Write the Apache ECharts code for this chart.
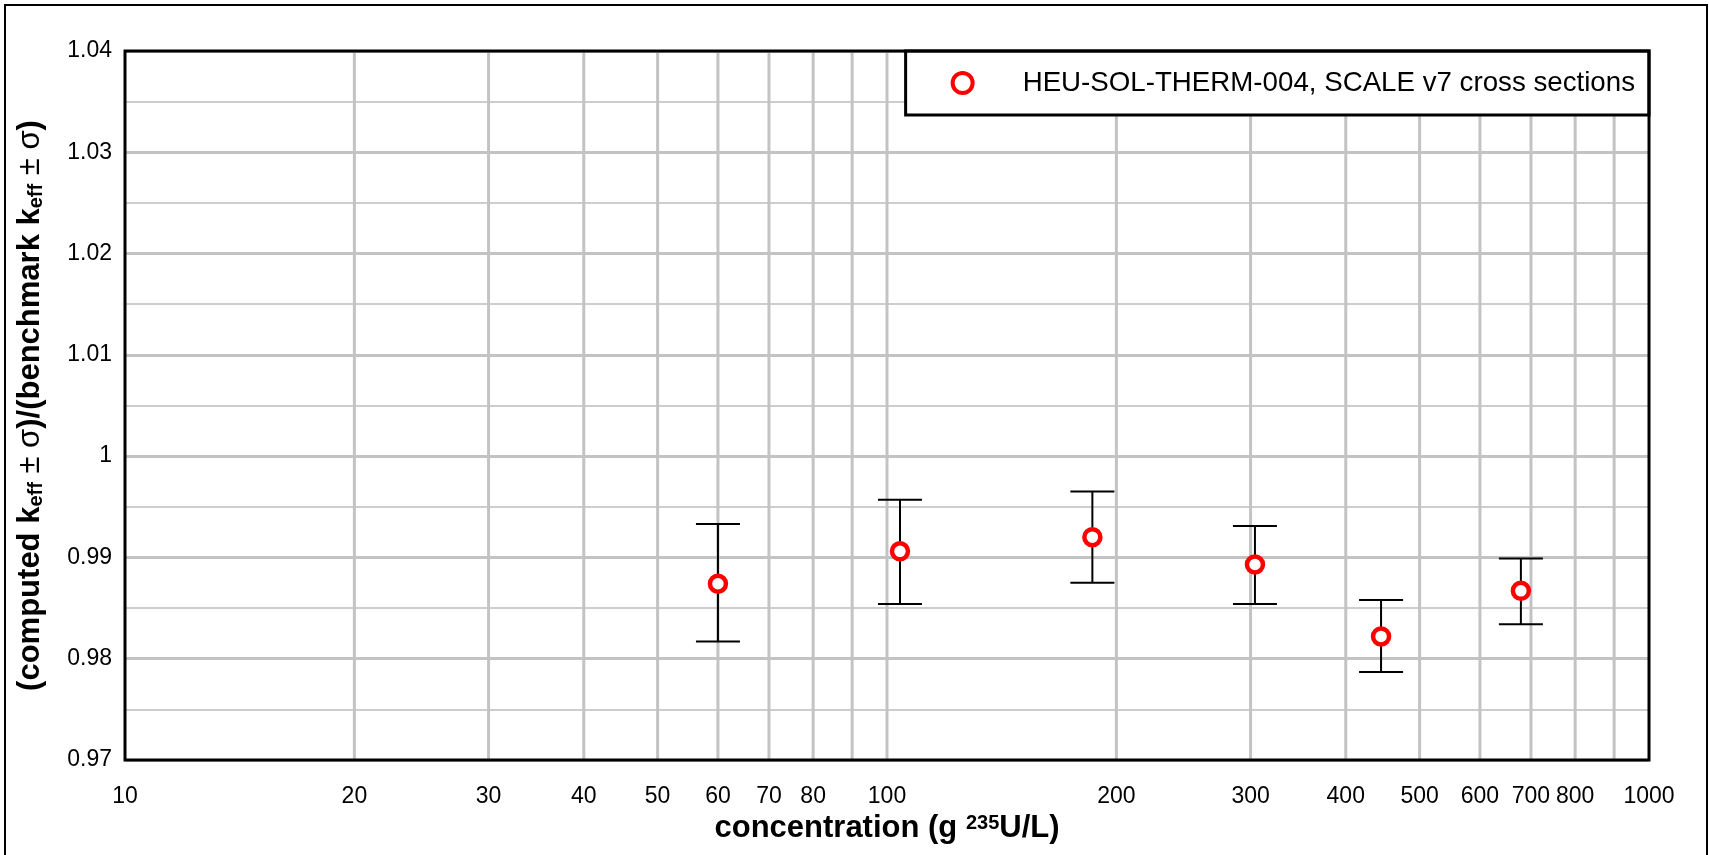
<!DOCTYPE html>
<html>
<head>
<meta charset="utf-8">
<script src="https://cdn.jsdelivr.net/npm/echarts@6/dist/echarts.min.js"></script>
<style>
html,body{margin:0;padding:0;background:#fff;}
#chart{width:1709px;height:855px;}
</style>
</head>
<body>
<div id="chart"></div>
<script>
// ---- data ----
const seriesName = 'HEU-SOL-THERM-004, SCALE v7 cross sections';
const concentration = [60, 104, 186, 304, 445, 679];
const ratio = [0.9874, 0.9906, 0.9920, 0.9893, 0.9822, 0.9867];
const ratioLow = [0.9817, 0.9854, 0.9875, 0.9854, 0.9787, 0.9834];
const ratioHigh = [0.9933, 0.9957, 0.9965, 0.9931, 0.9858, 0.9899];
const xGridValues = [20, 30, 40, 50, 60, 70, 80, 90, 100, 200, 300, 400, 500, 600, 700, 800, 900];
const xTickLabels = [10, 20, 30, 40, 50, 60, 70, 80, 100, 200, 300, 400, 500, 600, 700, 800, 1000];
const yMin = 0.97, yMax = 1.04, yStep = 0.01;

// ---- layout ----
const W = 1709, H = 855;
const G = {left: 125, top: 51, right: 60, bottom: 95};
const FONT = '"Liberation Sans", Arial, sans-serif';

const chart = echarts.init(document.getElementById('chart'), null, {renderer: 'canvas'});

const option = {
  backgroundColor: '#fff',
  animation: false,
  grid: {left: G.left, top: G.top, right: G.right, bottom: G.bottom},
  xAxis: {
    type: 'log', logBase: 10, min: 10, max: 1000,
    axisLine: {show: false}, axisTick: {show: false}, axisLabel: {show: false},
    splitLine: {show: false},
    name: 'concentration (g {sup|235}U/L)',
    nameLocation: 'middle', nameGap: 53,
    nameTextStyle: {
      fontFamily: FONT, fontSize: 31, fontWeight: 'bold', color: '#000',
      rich: {sup: {fontFamily: FONT, fontSize: 20, fontWeight: 'bold', color: '#000', verticalAlign: 'top', lineHeight: 20, padding: [0, 0, 14, 0]}}
    }
  },
  yAxis: {
    type: 'value', min: yMin, max: yMax, interval: yStep,
    axisLine: {show: false}, axisTick: {show: false},
    axisLabel: {
      fontFamily: FONT, fontSize: 23, color: '#000', margin: 13,
      formatter: v => String(+v.toFixed(2))
    },
    splitLine: {show: true, lineStyle: {color: '#c3c3c3', width: 3}},
    minorTick: {show: false, splitNumber: 2},
    minorSplitLine: {show: true, lineStyle: {color: '#cdcdcd', width: 2}},
    name: '(computed k{sub|eff} {sym|±} {sym|σ})/(benchmark k{sub|eff} {sym|±} {sym|σ})',
    nameLocation: 'middle', nameGap: 79,
    nameTextStyle: {
      fontFamily: FONT, fontSize: 31, fontWeight: 'bold', color: '#000',
      rich: {
        sub: {fontFamily: FONT, fontSize: 20, fontWeight: 'bold', color: '#000', verticalAlign: 'bottom', padding: [12, 0, 0, 0]},
        sym: {fontFamily: FONT, fontSize: 31, fontWeight: 'normal', color: '#000'}
      }
    }
  },
  legend: {
    data: [seriesName],
    right: G.right, top: G.top,
    orient: 'horizontal',
    padding: [18, 14, 18, 45],
    itemWidth: 110, itemHeight: 20,
    backgroundColor: '#fff',
    borderColor: '#000', borderWidth: 3, borderRadius: 0,
    itemStyle: {color: '#fff', borderColor: '#ff0000', borderWidth: 4},
    textStyle: {fontFamily: FONT, fontSize: 27.7, color: '#000'}
  },
  graphic: [
    {type: 'rect', z: 100, silent: true,
     shape: {x: G.left, y: G.top, width: W - G.left - G.right, height: H - G.top - G.bottom},
     style: {fill: 'none', stroke: '#000', lineWidth: 3}},
    {type: 'rect', z: 100, silent: true,
     shape: {x: 5, y: 5, width: W - 7, height: H + 20},
     style: {fill: 'none', stroke: '#000', lineWidth: 2}}
  ],
  series: [
    {
      name: 'xgrid', type: 'custom', silent: true, z: 1,
      data: xGridValues.map(v => [v]),
      encode: {x: 0},
      renderItem: (params, api) => {
        const v = api.value(0);
        const p0 = api.coord([v, yMin]);
        const p1 = api.coord([v, yMax]);
        return {type: 'line', shape: {x1: p0[0], y1: p0[1], x2: p1[0], y2: p1[1]},
                style: {stroke: '#c3c3c3', lineWidth: 3}};
      }
    },
    {
      name: 'xlabels', type: 'custom', silent: true, z: 1,
      data: xTickLabels.map(v => [v]),
      encode: {x: 0},
      renderItem: (params, api) => {
        const v = api.value(0);
        const p = api.coord([v, yMin]);
        return {type: 'text', x: p[0], y: p[1] + 25,
                style: {text: String(v), fontFamily: FONT, fontSize: 23, fill: '#000', align: 'center', verticalAlign: 'top'}};
      }
    },
    {
      name: 'errorbars', type: 'custom', z: 3, silent: true,
      data: concentration.map((c, i) => [c, ratioLow[i], ratioHigh[i]]),
      encode: {x: 0, y: [1, 2]},
      renderItem: (params, api) => {
        const x = api.value(0);
        const lo = api.coord([x, api.value(1)]);
        const hi = api.coord([x, api.value(2)]);
        const hw = 22;
        const st = {stroke: '#000', lineWidth: 2};
        return {type: 'group', children: [
          {type: 'line', shape: {x1: lo[0], y1: lo[1], x2: hi[0], y2: hi[1]}, style: st},
          {type: 'line', shape: {x1: lo[0] - hw, y1: lo[1], x2: lo[0] + hw, y2: lo[1]}, style: st},
          {type: 'line', shape: {x1: hi[0] - hw, y1: hi[1], x2: hi[0] + hw, y2: hi[1]}, style: st}
        ]};
      }
    },
    {
      name: seriesName, type: 'scatter', z: 5,
      symbol: 'circle', symbolSize: 16,
      itemStyle: {color: '#fff', borderColor: '#ff0000', borderWidth: 4.5, opacity: 1},
      data: concentration.map((c, i) => [c, ratio[i]])
    }
  ]
};
chart.setOption(option);
</script>
</body>
</html>
